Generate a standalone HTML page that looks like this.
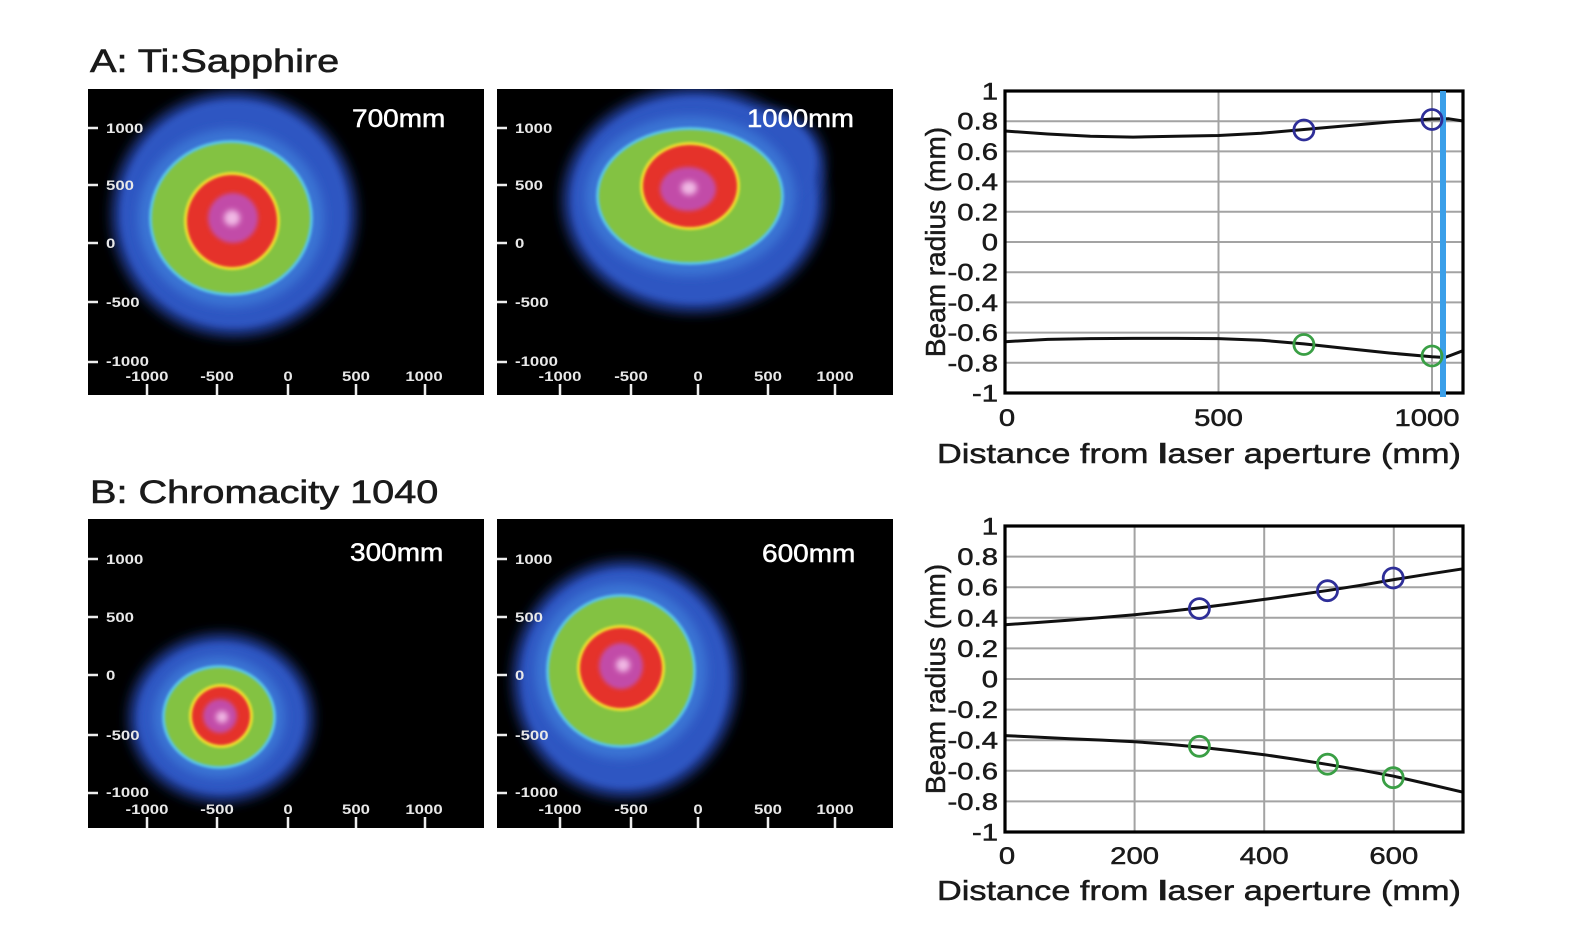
<!DOCTYPE html>
<html>
<head>
<meta charset="utf-8">
<style>
  html,body{margin:0;padding:0;background:#fff;}
  svg{display:block;}
  .t{font-family:"Liberation Sans",Arial,sans-serif;}
</style>
</head>
<body>
<svg width="1580" height="946" viewBox="0 0 1580 946" xmlns="http://www.w3.org/2000/svg">
<defs>
  <filter id="b6" x="-50%" y="-50%" width="200%" height="200%"><feGaussianBlur stdDeviation="6"/></filter>
  <filter id="b5" x="-50%" y="-50%" width="200%" height="200%"><feGaussianBlur stdDeviation="5"/></filter>
  <filter id="b3" x="-50%" y="-50%" width="200%" height="200%"><feGaussianBlur stdDeviation="3"/></filter>
  <filter id="b2" x="-50%" y="-50%" width="200%" height="200%"><feGaussianBlur stdDeviation="2"/></filter>
  <filter id="b1" x="-50%" y="-50%" width="200%" height="200%"><feGaussianBlur stdDeviation="1.2"/></filter>
  <clipPath id="cA1"><rect x="88" y="89" width="396" height="306"/></clipPath>
  <clipPath id="cA2"><rect x="497" y="89" width="396" height="306"/></clipPath>
  <clipPath id="cB1"><rect x="88" y="519" width="396" height="309"/></clipPath>
  <clipPath id="cB2"><rect x="497" y="519" width="396" height="309"/></clipPath>
</defs>

<!-- Titles -->
<text class="t" font-size="32" fill="#1a1a1a" stroke="#1a1a1a" stroke-width="0.6" transform="translate(90,72) scale(1.24,1)">A: Ti:Sapphire</text>
<text class="t" font-size="32" fill="#1a1a1a" stroke="#1a1a1a" stroke-width="0.6" transform="translate(90,503) scale(1.24,1)">B: Chromacity 1040</text>

<!-- ===== Panel A1 ===== -->
<rect x="88" y="89" width="396" height="306" fill="#000"/>
<g clip-path="url(#cA1)">
  <ellipse cx="234" cy="214" rx="122" ry="122" fill="#203f9e" filter="url(#b6)"/>
  <ellipse cx="234" cy="214" rx="113" ry="113" fill="#2d56c2" filter="url(#b3)"/>
  <ellipse cx="231" cy="218" rx="93" ry="89" fill="#3a74d4" filter="url(#b5)"/>
  <ellipse cx="231" cy="218" rx="82" ry="78" fill="#58c4e6" filter="url(#b1)"/>
  <ellipse cx="231" cy="218" rx="79" ry="75" fill="#83c242" filter="url(#b1)"/>
  <ellipse cx="232" cy="221" rx="48" ry="49" fill="#f0e12e" filter="url(#b1)"/>
  <ellipse cx="232" cy="221" rx="45" ry="46" fill="#e5332c" filter="url(#b1)"/>
  <ellipse cx="233" cy="218" rx="25" ry="25" fill="#c24ca8" filter="url(#b2)"/>
  <ellipse cx="232" cy="218" rx="8" ry="8" fill="#f0b8e4" filter="url(#b3)"/>
</g>
<text class="t" font-size="25" fill="#fff" stroke="#fff" stroke-width="0.5" transform="translate(352,127) scale(1.12,1)">700mm</text>

<!-- ===== Panel A2 ===== -->
<rect x="497" y="89" width="396" height="306" fill="#000"/>
<g clip-path="url(#cA2)">
  <ellipse cx="694" cy="200" rx="131" ry="112" fill="#203f9e" filter="url(#b6)"/>
  <ellipse cx="768" cy="162" rx="56" ry="52" fill="#203f9e" filter="url(#b6)"/>
  <ellipse cx="694" cy="200" rx="122" ry="103" fill="#2d56c2" filter="url(#b3)"/>
  <ellipse cx="766" cy="162" rx="50" ry="46" fill="#2d56c2" filter="url(#b3)"/>
  <ellipse cx="690" cy="196" rx="105" ry="80" fill="#3a74d4" filter="url(#b5)"/>
  <ellipse cx="690" cy="196" rx="94" ry="69" fill="#58c4e6" filter="url(#b1)"/>
  <ellipse cx="690" cy="196" rx="91" ry="66" fill="#83c242" filter="url(#b1)"/>
  <ellipse cx="690" cy="186" rx="50" ry="44" fill="#f0e12e" filter="url(#b1)"/>
  <ellipse cx="690" cy="186" rx="47" ry="41" fill="#e5332c" filter="url(#b1)"/>
  <ellipse cx="688" cy="189" rx="28" ry="22" fill="#c24ca8" filter="url(#b2)"/>
  <ellipse cx="689" cy="188" rx="8" ry="7" fill="#f0b8e4" filter="url(#b3)"/>
</g>
<text class="t" font-size="25" fill="#fff" stroke="#fff" stroke-width="0.5" transform="translate(747,127) scale(1.1,1)">1000mm</text>

<!-- ===== Panel B1 ===== -->
<rect x="88" y="519" width="396" height="309" fill="#000"/>
<g clip-path="url(#cB1)">
  <ellipse cx="221" cy="718" rx="92" ry="84" fill="#203f9e" filter="url(#b6)"/>
  <ellipse cx="221" cy="718" rx="83" ry="75" fill="#2d56c2" filter="url(#b3)"/>
  <ellipse cx="219" cy="717" rx="66" ry="61" fill="#3a74d4" filter="url(#b5)"/>
  <ellipse cx="219" cy="717" rx="57" ry="52" fill="#58c4e6" filter="url(#b1)"/>
  <ellipse cx="219" cy="717" rx="54" ry="49" fill="#83c242" filter="url(#b1)"/>
  <ellipse cx="221" cy="716" rx="32" ry="32" fill="#f0e12e" filter="url(#b1)"/>
  <ellipse cx="221" cy="716" rx="29" ry="29" fill="#e5332c" filter="url(#b1)"/>
  <ellipse cx="220" cy="716" rx="17" ry="17" fill="#c24ca8" filter="url(#b2)"/>
  <ellipse cx="222" cy="717" rx="6" ry="6" fill="#f0b8e4" filter="url(#b3)"/>
</g>
<text class="t" font-size="25" fill="#fff" stroke="#fff" stroke-width="0.5" transform="translate(350,561) scale(1.12,1)">300mm</text>

<!-- ===== Panel B2 ===== -->
<rect x="497" y="519" width="396" height="309" fill="#000"/>
<g clip-path="url(#cB2)">
  <ellipse cx="625" cy="679" rx="112" ry="118" fill="#203f9e" filter="url(#b6)"/>
  <ellipse cx="625" cy="679" rx="103" ry="109" fill="#2d56c2" filter="url(#b3)"/>
  <ellipse cx="621" cy="671" rx="86" ry="88" fill="#3a74d4" filter="url(#b5)"/>
  <ellipse cx="621" cy="671" rx="75" ry="77" fill="#58c4e6" filter="url(#b1)"/>
  <ellipse cx="621" cy="671" rx="72" ry="74" fill="#83c242" filter="url(#b1)"/>
  <ellipse cx="621" cy="668" rx="44" ry="43" fill="#f0e12e" filter="url(#b1)"/>
  <ellipse cx="621" cy="668" rx="41" ry="40" fill="#e5332c" filter="url(#b1)"/>
  <ellipse cx="621" cy="666" rx="22" ry="23" fill="#c24ca8" filter="url(#b2)"/>
  <ellipse cx="623" cy="665" rx="7" ry="7" fill="#f0b8e4" filter="url(#b3)"/>
</g>
<text class="t" font-size="25" fill="#fff" stroke="#fff" stroke-width="0.5" transform="translate(762,562) scale(1.12,1)">600mm</text>

<!-- Image axis ticks & labels (white) -->
<g stroke="#eee" stroke-width="2.5">
  <line x1="88" y1="128" x2="98" y2="128"/><line x1="88" y1="185" x2="98" y2="185"/>
  <line x1="88" y1="243" x2="98" y2="243"/><line x1="88" y1="302" x2="98" y2="302"/>
  <line x1="88" y1="362" x2="98" y2="362"/>
  <line x1="147" y1="384" x2="147" y2="395"/><line x1="217" y1="384" x2="217" y2="395"/>
  <line x1="288" y1="384" x2="288" y2="395"/><line x1="356" y1="384" x2="356" y2="395"/>
  <line x1="425" y1="384" x2="425" y2="395"/>
  <line x1="497" y1="128" x2="507" y2="128"/><line x1="497" y1="185" x2="507" y2="185"/>
  <line x1="497" y1="243" x2="507" y2="243"/><line x1="497" y1="302" x2="507" y2="302"/>
  <line x1="497" y1="362" x2="507" y2="362"/>
  <line x1="560" y1="384" x2="560" y2="395"/><line x1="631" y1="384" x2="631" y2="395"/>
  <line x1="698" y1="384" x2="698" y2="395"/><line x1="768" y1="384" x2="768" y2="395"/>
  <line x1="835" y1="384" x2="835" y2="395"/>
  <line x1="88" y1="559" x2="98" y2="559"/><line x1="88" y1="617" x2="98" y2="617"/>
  <line x1="88" y1="675" x2="98" y2="675"/><line x1="88" y1="735" x2="98" y2="735"/>
  <line x1="88" y1="793" x2="98" y2="793"/>
  <line x1="147" y1="817" x2="147" y2="828"/><line x1="217" y1="817" x2="217" y2="828"/>
  <line x1="288" y1="817" x2="288" y2="828"/><line x1="356" y1="817" x2="356" y2="828"/>
  <line x1="425" y1="817" x2="425" y2="828"/>
  <line x1="497" y1="559" x2="507" y2="559"/><line x1="497" y1="617" x2="507" y2="617"/>
  <line x1="497" y1="675" x2="507" y2="675"/><line x1="497" y1="735" x2="507" y2="735"/>
  <line x1="497" y1="793" x2="507" y2="793"/>
  <line x1="560" y1="817" x2="560" y2="828"/><line x1="631" y1="817" x2="631" y2="828"/>
  <line x1="698" y1="817" x2="698" y2="828"/><line x1="768" y1="817" x2="768" y2="828"/>
  <line x1="835" y1="817" x2="835" y2="828"/>
</g>
<g class="t" font-size="14" font-weight="bold" fill="#e8e8e8">
  <text transform="translate(106,133) scale(1.2,1)">1000</text>
  <text transform="translate(106,190) scale(1.2,1)">500</text>
  <text transform="translate(106,248) scale(1.2,1)">0</text>
  <text transform="translate(106,307) scale(1.2,1)">-500</text>
  <text transform="translate(106,366) scale(1.2,1)">-1000</text>
  <text text-anchor="middle" transform="translate(147,381) scale(1.2,1)">-1000</text>
  <text text-anchor="middle" transform="translate(217,381) scale(1.2,1)">-500</text>
  <text text-anchor="middle" transform="translate(288,381) scale(1.2,1)">0</text>
  <text text-anchor="middle" transform="translate(356,381) scale(1.2,1)">500</text>
  <text text-anchor="middle" transform="translate(424,381) scale(1.2,1)">1000</text>
  <text transform="translate(515,133) scale(1.2,1)">1000</text>
  <text transform="translate(515,190) scale(1.2,1)">500</text>
  <text transform="translate(515,248) scale(1.2,1)">0</text>
  <text transform="translate(515,307) scale(1.2,1)">-500</text>
  <text transform="translate(515,366) scale(1.2,1)">-1000</text>
  <text text-anchor="middle" transform="translate(560,381) scale(1.2,1)">-1000</text>
  <text text-anchor="middle" transform="translate(631,381) scale(1.2,1)">-500</text>
  <text text-anchor="middle" transform="translate(698,381) scale(1.2,1)">0</text>
  <text text-anchor="middle" transform="translate(768,381) scale(1.2,1)">500</text>
  <text text-anchor="middle" transform="translate(835,381) scale(1.2,1)">1000</text>
  <text transform="translate(106,564) scale(1.2,1)">1000</text>
  <text transform="translate(106,622) scale(1.2,1)">500</text>
  <text transform="translate(106,680) scale(1.2,1)">0</text>
  <text transform="translate(106,740) scale(1.2,1)">-500</text>
  <text transform="translate(106,797) scale(1.2,1)">-1000</text>
  <text text-anchor="middle" transform="translate(147,814) scale(1.2,1)">-1000</text>
  <text text-anchor="middle" transform="translate(217,814) scale(1.2,1)">-500</text>
  <text text-anchor="middle" transform="translate(288,814) scale(1.2,1)">0</text>
  <text text-anchor="middle" transform="translate(356,814) scale(1.2,1)">500</text>
  <text text-anchor="middle" transform="translate(424,814) scale(1.2,1)">1000</text>
  <text transform="translate(515,564) scale(1.2,1)">1000</text>
  <text transform="translate(515,622) scale(1.2,1)">500</text>
  <text transform="translate(515,680) scale(1.2,1)">0</text>
  <text transform="translate(515,740) scale(1.2,1)">-500</text>
  <text transform="translate(515,797) scale(1.2,1)">-1000</text>
  <text text-anchor="middle" transform="translate(560,814) scale(1.2,1)">-1000</text>
  <text text-anchor="middle" transform="translate(631,814) scale(1.2,1)">-500</text>
  <text text-anchor="middle" transform="translate(698,814) scale(1.2,1)">0</text>
  <text text-anchor="middle" transform="translate(768,814) scale(1.2,1)">500</text>
  <text text-anchor="middle" transform="translate(835,814) scale(1.2,1)">1000</text>
</g>

<!-- ===== Chart A ===== -->
<g stroke="#a3a3a3" stroke-width="2">
  <line x1="1005" y1="121.2" x2="1463" y2="121.2"/>
  <line x1="1005" y1="151.4" x2="1463" y2="151.4"/>
  <line x1="1005" y1="181.6" x2="1463" y2="181.6"/>
  <line x1="1005" y1="211.8" x2="1463" y2="211.8"/>
  <line x1="1005" y1="242" x2="1463" y2="242"/>
  <line x1="1005" y1="272.2" x2="1463" y2="272.2"/>
  <line x1="1005" y1="302.4" x2="1463" y2="302.4"/>
  <line x1="1005" y1="332.6" x2="1463" y2="332.6"/>
  <line x1="1005" y1="362.8" x2="1463" y2="362.8"/>
  <line x1="1218.5" y1="91" x2="1218.5" y2="393"/>
  <line x1="1432" y1="91" x2="1432" y2="393"/>
</g>
<g fill="none" stroke="#111" stroke-width="3" stroke-linejoin="round" stroke-linecap="round">
  <polyline points="1005,131 1047.7,134 1090.4,136.3 1133.1,137.1 1175.8,136.3 1218.5,135.5 1261.2,133.3 1303.9,129.5 1346.6,125.7 1389.3,122 1432,119 1449,118.8 1463,121"/>
  <polyline points="1005,341.7 1047.7,339.4 1090.4,338.6 1133.1,338.4 1175.8,338.4 1218.5,338.6 1261.2,340.2 1303.9,343.9 1346.6,348.5 1389.3,353 1432,356.8 1445,357.5 1463,350.7"/>
</g>
<rect x="1005" y="91" width="458" height="302" fill="none" stroke="#000" stroke-width="3.2"/>
<line x1="1443" y1="91" x2="1443" y2="397" stroke="#3b9fe9" stroke-width="6"/>
<g fill="none" stroke-width="2.8">
  <circle cx="1303.9" cy="130" r="10" stroke="#2e2e98"/>
  <circle cx="1432" cy="119.5" r="10" stroke="#2e2e98"/>
  <circle cx="1303.9" cy="344.5" r="10" stroke="#3a9f45"/>
  <circle cx="1432" cy="356" r="10" stroke="#3a9f45"/>
</g>
<g class="t" font-size="24" fill="#1a1a1a" stroke="#1a1a1a" stroke-width="0.5" text-anchor="end">
  <text transform="translate(998,99.5) scale(1.22,1)">1</text>
  <text transform="translate(998,129.7) scale(1.22,1)">0.8</text>
  <text transform="translate(998,159.9) scale(1.22,1)">0.6</text>
  <text transform="translate(998,190.1) scale(1.22,1)">0.4</text>
  <text transform="translate(998,220.3) scale(1.22,1)">0.2</text>
  <text transform="translate(998,250.5) scale(1.22,1)">0</text>
  <text transform="translate(998,280.7) scale(1.22,1)">-0.2</text>
  <text transform="translate(998,310.9) scale(1.22,1)">-0.4</text>
  <text transform="translate(998,341.1) scale(1.22,1)">-0.6</text>
  <text transform="translate(998,371.3) scale(1.22,1)">-0.8</text>
  <text transform="translate(998,401.5) scale(1.22,1)">-1</text>
</g>
<g class="t" font-size="24" fill="#1a1a1a" stroke="#1a1a1a" stroke-width="0.5" text-anchor="middle">
  <text transform="translate(1007,426) scale(1.22,1)">0</text>
  <text transform="translate(1218.5,426) scale(1.22,1)">500</text>
  <text transform="translate(1427,426) scale(1.22,1)">1000</text>
</g>
<text class="t" font-size="28" fill="#1a1a1a" stroke="#1a1a1a" stroke-width="0.5" transform="translate(937,463) scale(1.225,1)">Distance from <tspan font-weight="bold">l</tspan>aser aperture (mm)</text>
<text class="t" font-size="28" fill="#1a1a1a" stroke="#1a1a1a" stroke-width="0.5" text-anchor="middle" transform="translate(945,242) rotate(-90)">Beam radius (mm)</text>

<!-- ===== Chart B ===== -->
<g stroke="#a3a3a3" stroke-width="2">
  <line x1="1005" y1="556.6" x2="1463" y2="556.6"/>
  <line x1="1005" y1="587.2" x2="1463" y2="587.2"/>
  <line x1="1005" y1="617.8" x2="1463" y2="617.8"/>
  <line x1="1005" y1="648.4" x2="1463" y2="648.4"/>
  <line x1="1005" y1="679" x2="1463" y2="679"/>
  <line x1="1005" y1="709.6" x2="1463" y2="709.6"/>
  <line x1="1005" y1="740.2" x2="1463" y2="740.2"/>
  <line x1="1005" y1="770.8" x2="1463" y2="770.8"/>
  <line x1="1005" y1="801.4" x2="1463" y2="801.4"/>
  <line x1="1134.6" y1="526" x2="1134.6" y2="832"/>
  <line x1="1264.2" y1="526" x2="1264.2" y2="832"/>
  <line x1="1393.8" y1="526" x2="1393.8" y2="832"/>
</g>
<g fill="none" stroke="#111" stroke-width="3" stroke-linejoin="round" stroke-linecap="round">
  <polyline points="1005,624.7 1037.4,622.5 1069.8,620.1 1102.2,617.5 1134.6,614.7 1167,611.5 1199.4,607.9 1231.8,603.8 1264.2,599.4 1296.6,594.9 1329,590.3 1361.4,585.2 1393.8,579.6 1428,574.2 1463,568.8"/>
  <polyline points="1005,735.6 1037.4,737.1 1069.8,738.7 1102.2,740.1 1134.6,741.7 1167,744.1 1199.4,747.1 1231.8,750.7 1264.2,754.7 1296.6,759.5 1329,764.7 1361.4,770.2 1393.8,776.2 1428,784 1463,792.2"/>
</g>
<rect x="1005" y="526" width="458" height="306" fill="none" stroke="#000" stroke-width="3.2"/>
<g fill="none" stroke-width="2.8">
  <circle cx="1199.4" cy="608.6" r="10" stroke="#2e2e98"/>
  <circle cx="1327.5" cy="590.7" r="10" stroke="#2e2e98"/>
  <circle cx="1393.2" cy="578" r="10" stroke="#2e2e98"/>
  <circle cx="1199.4" cy="746.3" r="10" stroke="#3a9f45"/>
  <circle cx="1327.5" cy="764.2" r="10" stroke="#3a9f45"/>
  <circle cx="1393.2" cy="777.7" r="10" stroke="#3a9f45"/>
</g>
<g class="t" font-size="24" fill="#1a1a1a" stroke="#1a1a1a" stroke-width="0.5" text-anchor="end">
  <text transform="translate(998,534.5) scale(1.22,1)">1</text>
  <text transform="translate(998,565.1) scale(1.22,1)">0.8</text>
  <text transform="translate(998,595.7) scale(1.22,1)">0.6</text>
  <text transform="translate(998,626.3) scale(1.22,1)">0.4</text>
  <text transform="translate(998,656.9) scale(1.22,1)">0.2</text>
  <text transform="translate(998,687.5) scale(1.22,1)">0</text>
  <text transform="translate(998,718.1) scale(1.22,1)">-0.2</text>
  <text transform="translate(998,748.7) scale(1.22,1)">-0.4</text>
  <text transform="translate(998,779.3) scale(1.22,1)">-0.6</text>
  <text transform="translate(998,809.9) scale(1.22,1)">-0.8</text>
  <text transform="translate(998,840.5) scale(1.22,1)">-1</text>
</g>
<g class="t" font-size="24" fill="#1a1a1a" stroke="#1a1a1a" stroke-width="0.5" text-anchor="middle">
  <text transform="translate(1007,864) scale(1.22,1)">0</text>
  <text transform="translate(1134.6,864) scale(1.22,1)">200</text>
  <text transform="translate(1264.2,864) scale(1.22,1)">400</text>
  <text transform="translate(1393.8,864) scale(1.22,1)">600</text>
</g>
<text class="t" font-size="28" fill="#1a1a1a" stroke="#1a1a1a" stroke-width="0.5" transform="translate(937,900) scale(1.225,1)">Distance from <tspan font-weight="bold">l</tspan>aser aperture (mm)</text>
<text class="t" font-size="28" fill="#1a1a1a" stroke="#1a1a1a" stroke-width="0.5" text-anchor="middle" transform="translate(945,679) rotate(-90)">Beam radius (mm)</text>

</svg>
</body>
</html>
